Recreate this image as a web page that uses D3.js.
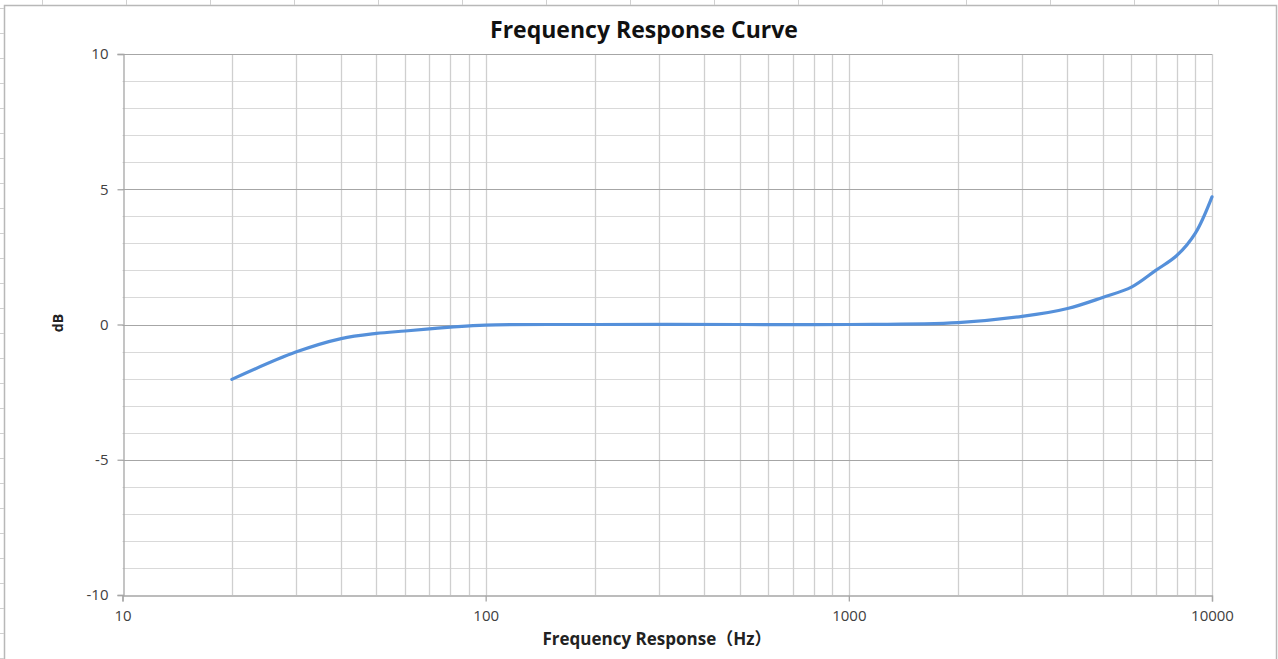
<!DOCTYPE html>
<html>
<head>
<meta charset="utf-8">
<script src="https://cdn.jsdelivr.net/npm/d3@7"></script>
<style>
  body { margin: 0; background: #fff; }
  svg { display: block; font-family: "Open Sans", "Noto Sans", "Noto Sans CJK SC", sans-serif; }
</style>
</head>
<body>
<script>
// measured frequency response (Hz / dB)
var freqs = [20, 30, 40, 50, 60, 70, 80, 100, 200, 500, 1000, 2000, 3000, 4000, 5000, 6000, 7000, 8000, 9000, 10000];
var dbValues = [-2.03, -1.02, -0.52, -0.33, -0.24, -0.16, -0.1, -0.02, 0, 0, 0, 0.07, 0.3, 0.59, 1.0, 1.38, 2.0, 2.55, 3.38, 4.72];
var xTickLabels = [10, 100, 1000, 10000];
var yTickLabels = [-10, -5, 0, 5, 10];

var W = 1278, H = 659;
var plotL = 122.5, plotR = 1212, plotT = 54, plotB = 595;

var svg = d3.select("body")
				.append("svg")
				.attr("width", W)
				.attr("height", H);

// sheet frame round the chart
svg.append("rect")
	.attr("x", 4.5).attr("y", 5.5)
	.attr("width", 1272).attr("height", 700)
	.style("fill", "none")
	.style("stroke", "#b8b8b8")
	.style("stroke-width", 1.5);
for (var cx = 42; cx < W; cx += 84) {
	svg.append("line").attr("x1", cx + 0.5).attr("x2", cx + 0.5).attr("y1", 0).attr("y2", 5)
		.style("stroke", "#d0d0d0");
}
for (var cy = 8; cy < H; cy += 25) {
	svg.append("line").attr("x1", 0).attr("x2", 4).attr("y1", cy + 0.5).attr("y2", cy + 0.5)
		.style("stroke", "#d0d0d0");
}

var x = d3.scaleLog().domain([10, 10000]).range([plotL, plotR]);
var y = d3.scaleLinear().domain([-10, 10]).range([plotB, plotT]);

// minor horizontal grid (every 1 dB)
var g = svg.append("g");
g.selectAll(".hminor")
	.data(d3.range(-9, 11).filter(function(d){ return d % 5 != 0; }))
	.enter().append("line")
	.attr("x1", plotL).attr("x2", plotR)
	.attr("y1", function(d){ return Math.round(y(d)) + 0.5; })
	.attr("y2", function(d){ return Math.round(y(d)) + 0.5; })
	.style("stroke", "#d9d9d9").style("stroke-width", 1.2);

// vertical grid (log minor)
var vlines = [];
[10, 100, 1000].forEach(function(dec){
	for (var k = 2; k <= 10; k++) vlines.push(dec * k);
});
g.selectAll(".vgrid")
	.data(vlines)
	.enter().append("line")
	.attr("y1", plotT).attr("y2", plotB)
	.attr("x1", function(d){ return Math.round(x(d)) + 0.5; })
	.attr("x2", function(d){ return Math.round(x(d)) + 0.5; })
	.style("stroke", "#cfcfcf").style("stroke-width", 1.3);

// major horizontal grid
g.selectAll(".hmajor")
	.data([-5, 0, 5, 10])
	.enter().append("line")
	.attr("x1", plotL).attr("x2", plotR)
	.attr("y1", function(d){ return Math.round(y(d)) + 0.5; })
	.attr("y2", function(d){ return Math.round(y(d)) + 0.5; })
	.style("stroke", "#a6a6a6").style("stroke-width", 1.2);

// axes (plain hyphen for negatives, like the sheet)
var plain = function(d){ return String(d); };
var yAxis = svg.append("g")
	.attr("transform", "translate(" + (Math.round(plotL) + 0.5) + ",0)")
	.call(d3.axisLeft(y).tickValues(yTickLabels).tickFormat(plain).tickSize(6).tickPadding(10));
var xAxis = svg.append("g")
	.attr("transform", "translate(0," + (Math.round(plotB) + 0.5) + ")")
	.call(d3.axisBottom(x).tickValues(xTickLabels).tickFormat(plain).tickSize(6).tickPadding(9));

[yAxis, xAxis].forEach(function(a){
	a.select(".domain").style("stroke", "#a6a6a6").style("stroke-width", 1.3);
	a.selectAll(".tick line").style("stroke", "#a6a6a6").style("stroke-width", 1.3);
	a.selectAll("text").style("font-size", "15px").style("fill", "#404040")
		.style("font-family", "'Open Sans', sans-serif");
});
yAxis.selectAll("text").attr("x", -15);

// curve
var line = d3.line()
	.x(function(d, i){ return x(freqs[i]); })
	.y(function(d){ return y(d); })
	.curve(d3.curveCatmullRom.alpha(0.5));

svg.append("path")
	.datum(dbValues)
	.attr("d", line)
	.style("fill", "none")
	.style("stroke", "#5590da")
	.style("stroke-width", 3.2)
	.style("stroke-linecap", "round");

// titles
svg.append("text")
	.attr("x", 644).attr("y", 38)
	.attr("text-anchor", "middle")
	.style("font-size", "23px").style("font-weight", "bold").style("fill", "#111")
	.text("Frequency Response Curve");

svg.append("text")
	.attr("x", 657).attr("y", 645)
	.attr("text-anchor", "middle")
	.style("font-size", "17px").style("font-weight", "bold").style("fill", "#222")
	.text("Frequency Response（Hz）");

svg.append("text")
	.attr("transform", "translate(63,323) rotate(-90)")
	.attr("text-anchor", "middle")
	.style("font-size", "14px").style("font-weight", "bold").style("fill", "#222")
	.text("dB");
</script>
</body>
</html>
